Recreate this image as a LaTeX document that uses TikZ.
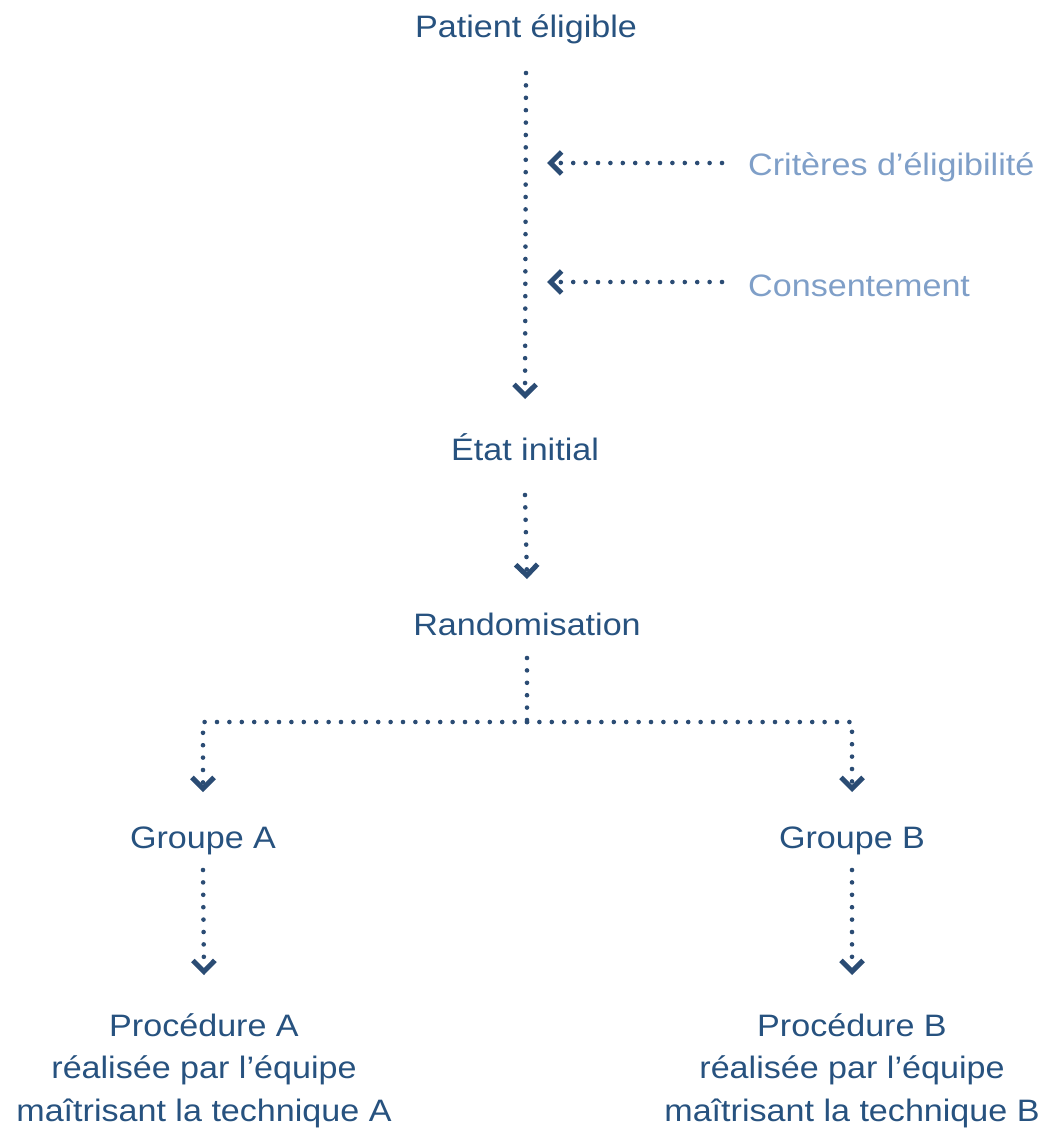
\documentclass[tikz,border=0pt]{standalone}
\usepackage{fontspec}
\setmainfont{Liberation Sans}[FakeStretch=1.1]
\usetikzlibrary{arrows.meta,calc}

\definecolor{ink}{HTML}{27527F}
\definecolor{dotc}{HTML}{2B4C74}
\definecolor{soft}{HTML}{7F9FC8}

\tikzset{
  lbl/.style={inner sep=0pt, anchor=base, text=ink,
    font=\fontsize{31}{42.5}\selectfont},
  side/.style={lbl, anchor=base west, text=soft},
  chev/.tip={Straight Barb[length=11pt,width=22pt,line width=5pt]},
  dotline/.style={draw=dotc, line width=4.6pt, line cap=round,
    dash pattern=on 0pt off 12.4pt},
  flow/.style={dotline, -chev},
}

\begin{document}
\begin{tikzpicture}[x=1pt,y=-1pt]
  \useasboundingbox (0,0) rectangle (1046,1131);

  % stages
  \node[lbl] (pat)  at (526,38)  {Patient éligible};
  \node[lbl] (etat) at (525,460) {État initial};
  \node[lbl] (rand) at (527,635) {Randomisation};
  \node[lbl] (ga)   at (203,848) {Groupe A};
  \node[lbl] (gb)   at (852,848) {Groupe B};
  \node[lbl, align=center] (pa) at (204,1121)
    {Procédure A\\réalisée par l’équipe\\maîtrisant la technique A};
  \node[lbl, align=center] (pb) at (852,1121)
    {Procédure B\\réalisée par l’équipe\\maîtrisant la technique B};

  % conditions joining the main line
  \node[side] (crit) at (748,176) {Critères d’éligibilité};
  \node[side] (cons) at (748,296) {Consentement};
  \coordinate (j1) at (526,163);
  \coordinate (j2) at (526,282);

  % main line
  \draw[flow] ($(pat.base)+(0,35)$) -- ($(etat.base)+(0,-61)$);
  \draw[flow] ($(crit.base west)+(-26,-13)$) -- ($(j1)+(21,0)$);
  \draw[flow] ($(cons.base west)+(-26,-14)$) -- ($(j2)+(21,0)$);
  \draw[flow] ($(etat.base)+(0,35)$) -- ($(rand.base)+(0,-56)$);

  % split into the two groups
  \coordinate (split) at (527,722);
  \draw[dotline] ($(rand.base)+(0,23)$) -- (split);
  \draw[flow] (split) -| ($(ga.base)+(0,-56)$);
  \draw[flow] (split) -| ($(gb.base)+(0,-56)$);

  % groups to procedures
  \draw[flow] ($(ga.base)+(0,22)$) -- ($(pa.base)+(0,-146)$);
  \draw[flow] ($(gb.base)+(0,22)$) -- ($(pb.base)+(0,-146)$);
\end{tikzpicture}
\end{document}
